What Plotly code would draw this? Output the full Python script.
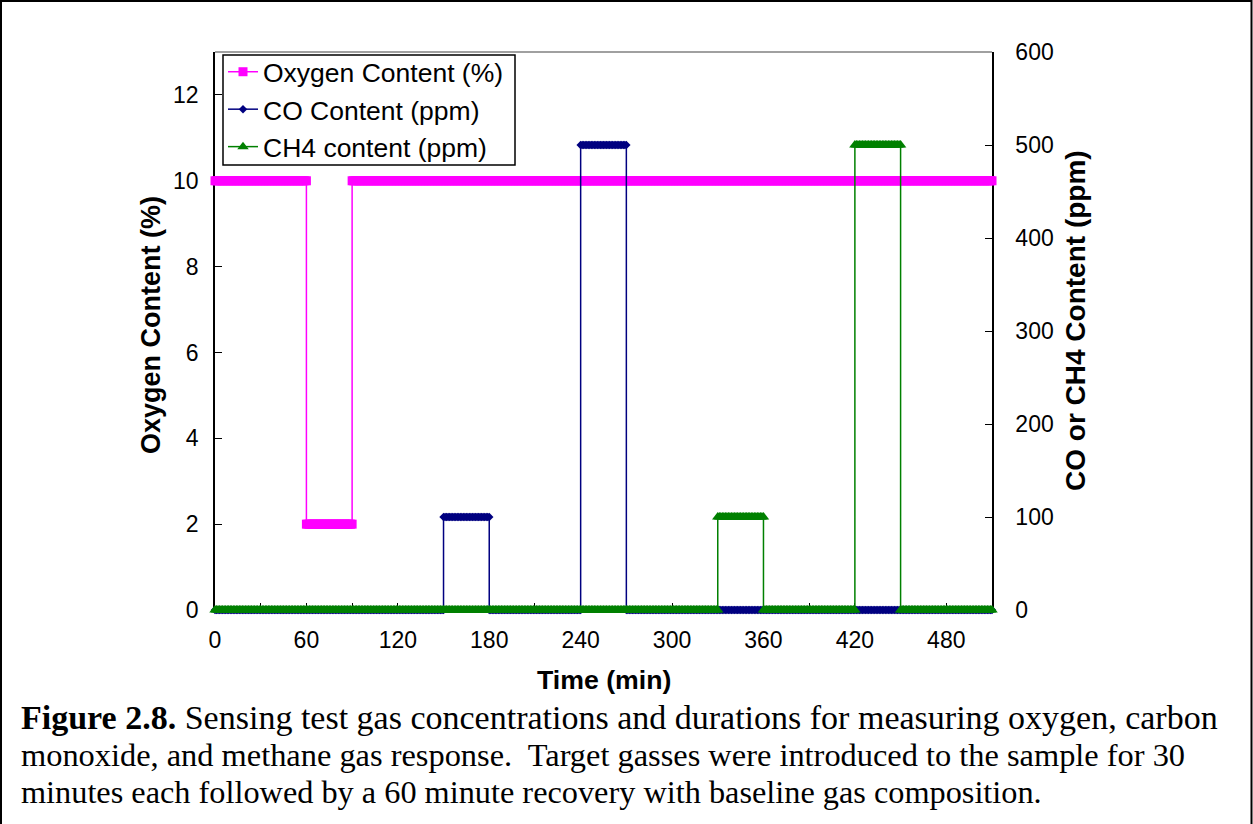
import plotly.graph_objects as go

# Test schedule: each gas step as (start min, end min, level)
o2_start = [0, 60, 90]
o2_end = [60, 90, 510]
o2_level = [10, 2, 10]          # oxygen content (%)

co_start = [0, 150, 180, 240, 270]
co_end = [150, 180, 240, 270, 510]
co_level = [0, 100, 0, 500, 0]  # CO content (ppm)

ch4_start = [0, 330, 360, 420, 450]
ch4_end = [330, 360, 420, 450, 510]
ch4_level = [0, 100, 0, 500, 0]  # CH4 content (ppm)

x_ticks = [0, 60, 120, 180, 240, 300, 360, 420, 480]
o2_ticks = [0, 2, 4, 6, 8, 10, 12]
ppm_ticks = [0, 100, 200, 300, 400, 500, 600]

SAMPLE_MIN = 1  # logger records one reading per minute


def logged(starts, ends, levels):
    t, v = [], []
    for s, e, lv in zip(starts, ends, levels):
        m = s
        while m <= e:
            t.append(m)
            v.append(lv)
            m += SAMPLE_MIN
    return t, v


W, H = 1253, 824
PL, PR, PT, PB = 215, 992, 52, 610   # plot area in pixels


def px(x):
    return (x - PL) / (PR - PL)


def py(y):
    return (PB - y) / (PB - PT)


o2_t, o2_v = logged(o2_start, o2_end, o2_level)
co_t, co_v = logged(co_start, co_end, co_level)
ch4_t, ch4_v = logged(ch4_start, ch4_end, ch4_level)

fig = go.Figure()
fig.add_trace(go.Scatter(
    x=o2_t, y=o2_v, name="Oxygen Content (%)", mode="lines+markers",
    line=dict(color="#FF00FF", width=1.5),
    marker=dict(symbol="square", size=9, color="#FF00FF"),
    cliponaxis=False, legendgroup="a", yaxis="y"))
fig.add_trace(go.Scatter(
    x=co_t, y=co_v, name="CO Content (ppm)", mode="lines+markers",
    line=dict(color="#000080", width=1.5),
    marker=dict(symbol="diamond", size=6.5, color="#000080"),
    cliponaxis=False, legendgroup="b", yaxis="y2"))
fig.add_trace(go.Scatter(
    x=ch4_t, y=ch4_v, name="CH4 content (ppm)", mode="lines+markers",
    line=dict(color="#008000", width=1.5),
    marker=dict(symbol="triangle-up", size=10, color="#008000"),
    cliponaxis=False, legendgroup="c", yaxis="y2"))

SANS = "Liberation Sans, Arial, sans-serif"
tick_font = dict(family=SANS, size=23, color="black")

fig.update_layout(
    width=W, height=H,
    margin=dict(l=PL, r=W - PR, t=PT, b=H - PB, pad=0),
    paper_bgcolor="white", plot_bgcolor="white",
    showlegend=True,
    xaxis=dict(range=[0, 510], tickvals=x_ticks, ticks="inside", ticklen=7,
               tickcolor="black", showline=True, linecolor="black", linewidth=1.5,
               showgrid=False, zeroline=False, tickfont=tick_font,
               ticklabelstandoff=9, layer="below traces",
               minor=dict(dtick=30, tick0=0, ticks="inside", ticklen=7, tickcolor="black")),
    yaxis=dict(range=[0, 13], tickvals=o2_ticks, ticks="inside", ticklen=7,
               tickcolor="black", showline=True, linecolor="black", linewidth=1.5,
               showgrid=False, zeroline=False, tickfont=tick_font,
               ticklabelstandoff=10, layer="below traces"),
    yaxis2=dict(range=[0, 600], tickvals=ppm_ticks, ticks="inside", ticklen=7,
                tickcolor="black", showline=True, linecolor="black", linewidth=1.5,
                showgrid=False, zeroline=False, tickfont=tick_font,
                overlaying="y", side="right", ticklabelstandoff=17,
                layer="below traces"),
    legend=dict(x=px(223), y=py(48), xanchor="left", yanchor="top",
                bgcolor="rgba(0,0,0,0)", borderwidth=0,
                font=dict(family=SANS, size=26.5, color="black"),
                itemwidth=30, tracegroupgap=1, traceorder="normal"),
)

# legend frame
fig.add_shape(type="rect", xref="paper", yref="paper",
              x0=px(223), x1=px(515), y0=py(165), y1=py(55),
              line=dict(color="black", width=1.5), fillcolor="white", layer="above")
# plot-area top border
fig.add_shape(type="line", xref="paper", yref="paper", x0=0, x1=1, y0=1, y1=1,
              line=dict(color="#808080", width=1.5))
# outer frame around figure and caption
fig.add_shape(type="rect", xref="paper", yref="paper",
              x0=px(1), x1=px(W - 1.5), y0=py(H + 10), y1=py(1),
              line=dict(color="black", width=2), layer="below")

annotations = [
    dict(text="<b>Time (min)</b>", x=px(604), y=py(680), size=26.7),
    dict(text="<b>Oxygen Content (%)</b>", x=px(151), y=py(325), textangle=-90, size=27),
    dict(text="<b>CO or CH4 Content (ppm)</b>", x=px(1075), y=py(321), textangle=-90, size=28),
]
for a in annotations:
    size = a.pop("size")
    fig.add_annotation(xref="paper", yref="paper", showarrow=False,
                       xanchor="center", yanchor="middle",
                       font=dict(family=SANS, size=size, color="black"), **a)

caption_lines = [
    "<b>Figure 2.8.</b> Sensing test gas concentrations and durations for measuring oxygen, carbon",
    "monoxide, and methane gas response.  Target gasses were introduced to the sample for 30",
    "minutes each followed by a 60 minute recovery with baseline gas composition.",
]
caption_sizes = [34, 32.4, 32.3]
for i, (line, size) in enumerate(zip(caption_lines, caption_sizes)):
    fig.add_annotation(xref="paper", yref="paper", x=px(19), y=py(717 + 37.5 * i),
                       xanchor="left", yanchor="middle", showarrow=False, text=line,
                       font=dict(family="Liberation Serif, Times New Roman, serif",
                                 size=size, color="black"))

fig.write_html("out.html")
